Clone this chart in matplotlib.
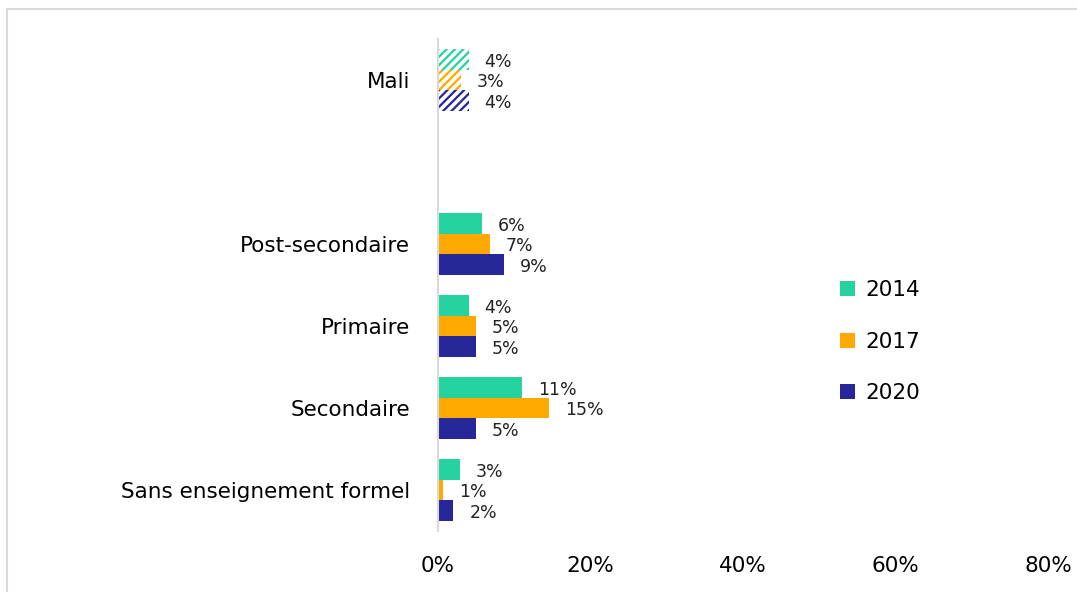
import numpy as np
import matplotlib.pyplot as plt
from matplotlib.patches import Rectangle

plt.rcParams['font.family'] = ['DejaVu Sans']
plt.rcParams['hatch.linewidth'] = 2.6

categories = ["Mali", "", "Post-secondaire", "Primaire", "Secondaire", "Sans enseignement formel"]
years = ["2014", "2017", "2020"]
v2014 = [4.0, None, 5.8, 4.0, 11.0, 2.9]
v2017 = [3.0, None, 6.8, 5.0, 14.6, 0.7]
v2020 = [4.0, None, 8.7, 5.0, 5.0, 2.0]
colors = ["#25D3A1", "#FFA900", "#28279A"]
xticks = [0, 20, 40, 60, 80]

fig = plt.figure(figsize=(10.77, 5.92), dpi=100)
fig.patches.append(Rectangle((7 / 1077, -0.1), 1.2, 1 - 9 / 592 + 0.1, transform=fig.transFigure,
                             fill=False, edgecolor="#d9d9d9", linewidth=1.5))
ax = fig.add_axes([438 / 1077, 1 - 531 / 592, (1048 - 438) / 1077, (531 - 39) / 592])

y = np.arange(len(categories))
h = 0.255
series = [v2014, v2017, v2020]
for k, (vals, col, yr) in enumerate(zip(series, colors, years)):
    for i, v in enumerate(vals):
        if v is None:
            continue
        yy = y[i] + (k - 1) * h
        if categories[i] == "Mali":
            ax.barh(yy, v, height=h, color=col, hatch="////", edgecolor="white", linewidth=0)
        else:
            ax.barh(yy, v, height=h, color=col, linewidth=0, label=yr if i == 2 else None)
        ax.text(v + 2.1, yy + 0.03, f"{v:.0f}%", va="center", ha="left", fontsize=12.5, color="#222222")

ax.set_xlim(0, 80)
ax.set_ylim(len(categories) - 0.5, -0.5)
ax.set_yticks(y)
ax.set_yticklabels(categories, fontsize=15.5)
ax.set_xticks(xticks)
ax.set_xticklabels([f"{t}%" for t in xticks], fontsize=15.5)
ax.tick_params(axis="both", length=0)
ax.tick_params(axis="y", pad=20)
ax.tick_params(axis="x", pad=18)
for s in ["top", "right", "bottom"]:
    ax.spines[s].set_visible(False)
ax.spines["left"].set_color("#d9d9d9")
ax.spines["left"].set_linewidth(1.5)

ax.legend(loc="center left", bbox_to_anchor=(0.627, 0.385), frameon=False, fontsize=15.5,
          handlelength=0.7, handleheight=0.7, labelspacing=1.45, handletextpad=0.5)

fig.savefig("out.png", dpi=100)
